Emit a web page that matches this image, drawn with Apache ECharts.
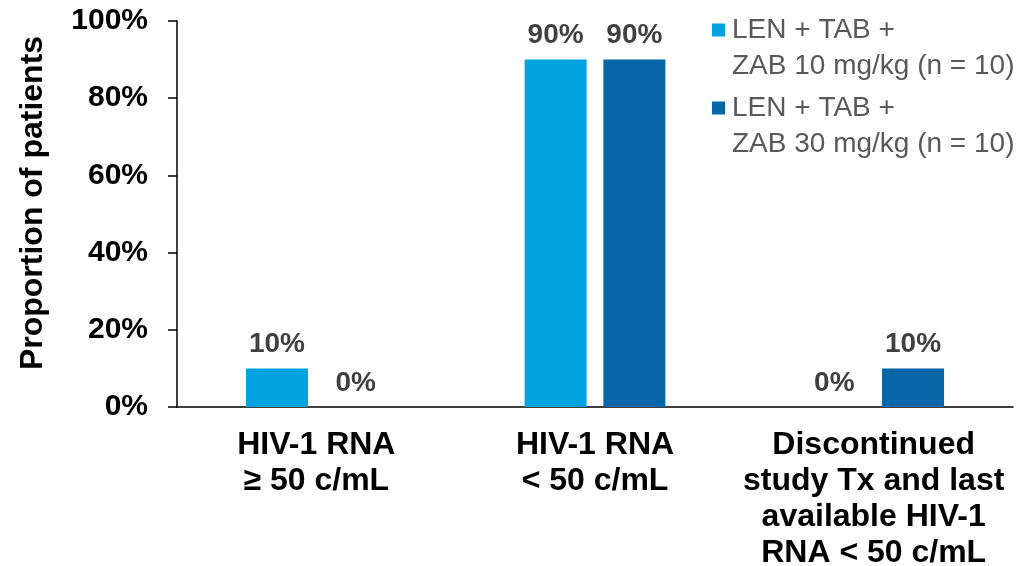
<!DOCTYPE html>
<html>
<head>
<meta charset="utf-8">
<script src="https://cdn.jsdelivr.net/npm/echarts@6/dist/echarts.min.js"></script>
<style>
  html, body { margin: 0; padding: 0; background: #ffffff; }
  #chart { width: 1017px; height: 566px; }
</style>
</head>
<body>
<div id="chart"></div>
<script>
// Outcome categories on the x axis
const categories = [
  'HIV-1 RNA\n≥ 50 c/mL',
  'HIV-1 RNA\n< 50 c/mL',
  'Discontinued\nstudy Tx and last\navailable HIV-1\nRNA < 50 c/mL'
];

// Treatment arms (legend text, first and second line)
const seriesNames = [
  ['LEN + TAB +', 'ZAB 10 mg/kg (n = 10)'],
  ['LEN + TAB +', 'ZAB 30 mg/kg (n = 10)']
];

// Proportion of patients (%) per arm
const zab10Values = [10, 90, 0];
const zab30Values = [0, 90, 10];

// Y axis tick values (%)
const yTicks = [0, 20, 40, 60, 80, 100];

const colors = ['#00A3E0', '#0766A7'];
const font = '"Liberation Sans", Arial, sans-serif';

const chart = echarts.init(document.getElementById('chart'), null, { renderer: 'canvas' });

const nameKey = i => seriesNames[i].join(' ');

function makeSeries(i, values) {
  return {
    name: nameKey(i),
    type: 'bar',
    data: values,
    barWidth: 62,
    barGap: '27%',
    itemStyle: { color: colors[i] },
    label: {
      show: true,
      position: 'top',
      distance: 10,
      formatter: p => p.value + '%',
      color: '#404040',
      fontFamily: font,
      fontWeight: 'bold',
      fontSize: 28
    }
  };
}

chart.setOption({
  animation: false,
  backgroundColor: '#ffffff',
  grid: {
    left: 177, right: 4, top: 21, bottom: 159,
    containLabel: false,
    outerBoundsMode: 'none'
  },
  legend: {
    left: 707,
    top: 12,
    orient: 'vertical',
    padding: 0,
    itemGap: 6,
    itemWidth: 0,
    itemHeight: 0,
    icon: 'none',
    selectedMode: false,
    data: [nameKey(0), nameKey(1)],
    formatter: name => {
      const i = name === nameKey(0) ? 0 : 1;
      const lines = seriesNames[i];
      return `{sq${i}|}{gap|}{t|${lines[0]}}\n{ind|}{t|${lines[1]}}`;
    },
    textStyle: {
      fontFamily: font,
      fontSize: 28,
      color: '#595959',
      lineHeight: 36,
      rich: {
        sq0: { width: 13, height: 13, backgroundColor: colors[0] },
        sq1: { width: 13, height: 13, backgroundColor: colors[1] },
        gap: { width: 7 },
        ind: { width: 20 },
        t: { fontFamily: font, fontSize: 28, color: '#595959', lineHeight: 36 }
      }
    }
  },
  xAxis: {
    type: 'category',
    data: categories,
    axisLine: { show: true, lineStyle: { color: '#000000', width: 1.5 } },
    axisTick: { show: false },
    axisLabel: {
      interval: 0,
      margin: 20,
      color: '#000000',
      fontFamily: font,
      fontWeight: 'bold',
      fontSize: 32,
      lineHeight: 36,
      align: 'center'
    }
  },
  yAxis: {
    type: 'value',
    min: yTicks[0],
    max: yTicks[yTicks.length - 1],
    interval: yTicks[1] - yTicks[0],
    name: 'Proportion of patients',
    nameLocation: 'middle',
    nameRotate: 90,
    nameGap: 128,
    nameTextStyle: {
      color: '#000000',
      fontFamily: font,
      fontWeight: 'bold',
      fontSize: 32,
      padding: [0, 0, 0, 22]
    },
    splitLine: { show: false },
    axisLine: { show: true, lineStyle: { color: '#000000', width: 1.5 } },
    axisTick: { show: true, inside: false, length: 9, lineStyle: { color: '#000000', width: 1.5 } },
    axisLabel: {
      margin: 29,
      formatter: v => v + '%',
      color: '#000000',
      fontFamily: font,
      fontWeight: 'bold',
      fontSize: 30
    }
  },
  series: [makeSeries(0, zab10Values), makeSeries(1, zab30Values)]
});
</script>
</body>
</html>
